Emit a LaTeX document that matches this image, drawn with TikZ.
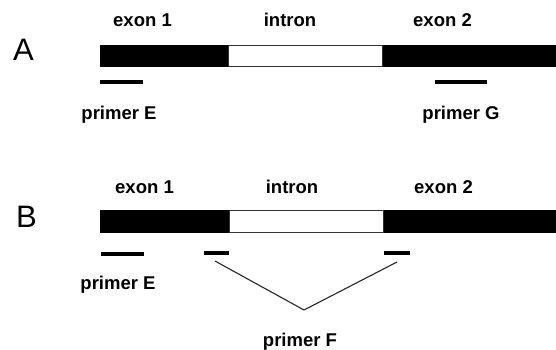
\documentclass[tikz,border=0pt]{standalone}
\usepackage{fontspec}
\setmainfont{Liberation Sans}
\begin{document}
\begin{tikzpicture}[x=1pt,y=-1pt,
  lbl/.style={font=\fontsize{18.5}{20}\selectfont\bfseries, anchor=base, inner sep=0pt},
  panel/.style={font=\fontsize{31}{34}\selectfont, anchor=base west, inner sep=0pt},
  exonbar/.style={rectangle, fill=black, draw=none, inner sep=0pt, outer sep=0pt, minimum width=456pt},
  intronbox/.style={rectangle, fill=white, draw=black!80, line width=0.6pt, inner sep=0pt, outer sep=0pt},
  primerline/.style={line width=3.2pt},
  thinline/.style={line width=1.1pt, black!85}]
\useasboundingbox (0,0) rectangle (556,350);
\fill[white] (0,0) rectangle (556,350);

% Panel A
\node[panel] (labA) at (13,61) {A};
\node[exonbar, minimum height=22pt] (barA) at (328,56) {};
\node[intronbox, minimum width=154.4pt, minimum height=21.4pt] (intA) at (305.5,56) {};
\node[lbl] (ex1A) at (142.5,27) {exon 1};
\node[lbl] (intrA) at (290,27) {intron};
\node[lbl] (ex2A) at (442.5,27) {exon 2};
\coordinate (eA1) at (100,82); \coordinate (eA2) at (143,82);
\coordinate (gA1) at (435,82); \coordinate (gA2) at (487,82);
\draw[primerline] (eA1) -- (eA2);
\draw[primerline] (gA1) -- (gA2);
\node[lbl] (pE_A) at (119,119) {primer E};
\node[lbl] (pG_A) at (461,120) {primer G};

% Panel B
\node[panel] (labB) at (16,227) {B};
\node[exonbar, minimum height=23pt] (barB) at (328,221) {};
\node[intronbox, minimum width=154.4pt, minimum height=22.4pt] (intB) at (306.5,221) {};
\node[lbl] (ex1B) at (144.5,193) {exon 1};
\node[lbl] (intrB) at (292,193) {intron};
\node[lbl] (ex2B) at (443.5,193) {exon 2};
\coordinate (eB1) at (101,254); \coordinate (eB2) at (144,254);
\coordinate (fB1) at (204,253); \coordinate (fB2) at (229,253);
\coordinate (fB3) at (384,253); \coordinate (fB4) at (410,253);
\draw[primerline] (eB1) -- (eB2);
\draw[primerline] (fB1) -- (fB2);
\draw[primerline] (fB3) -- (fB4);
\coordinate (dL) at (215,261);
\coordinate (apex) at (304,310);
\coordinate (dR) at (397,262);
\draw[thinline] (dL) -- (apex) -- (dR);
\node[lbl] (pE_B) at (118,289) {primer E};
\node[lbl] (pF_B) at (300,346) {primer F};
\end{tikzpicture}
\end{document}
